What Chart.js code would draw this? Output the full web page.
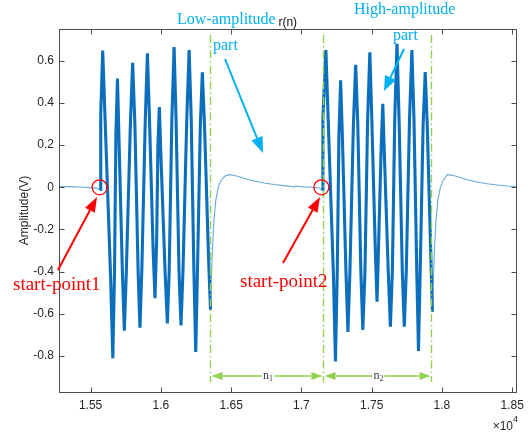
<!DOCTYPE html>
<html>
<head>
<meta charset="utf-8">
<title>r(n)</title>
<script src="https://cdn.jsdelivr.net/npm/chart.js"></script>
<style>
    body { margin: 0; background: #fff; }
    #wrap { width: 530px; height: 433px; }
</style>
</head>
<body>
<div id="wrap"><canvas id="signalChart" width="530" height="433"></canvas></div>
<script>
// sample index n / amplitude (V), split into the quiet stretches and the two bursts
const idleN = [15275, 15350, 15450, 15540, 15564];
const idleV = [0.004, 0.003, 0.0, -0.004, -0.012];

const burst1N = [15564, 15571, 15572, 15586, 15602, 15642, 15658, 15670, 15680, 15691,
    15701, 15726, 15740, 15754, 15783, 15799, 15815, 15838, 15851, 15864,
    15889, 15904, 15919, 15945, 15958, 15970, 15979, 15989, 16000, 16030,
    16046, 16059, 16078, 16094, 16108, 16129, 16143, 16157, 16184, 16201,
    16216, 16235, 16248, 16260, 16281, 16295, 16310, 16340, 16353];
const burst1V = [-0.012, -0.01, 0.35, 0.648, 0.34, -0.42, -0.81, -0.4, 0.25, 0.515,
    0.25, -0.4, -0.68, -0.4, 0.3, 0.59, 0.3, -0.4, -0.665, -0.4,
    0.32, 0.635, 0.32, -0.3, -0.525, -0.25, 0.2, 0.38, 0.15, -0.4,
    -0.645, -0.4, 0.32, 0.665, 0.32, -0.4, -0.655, -0.4, 0.32, 0.65,
    0.32, -0.4, -0.78, -0.4, 0.3, 0.545, 0.3, -0.35, -0.58];

const tail1N = [16353, 16359, 16366, 16377, 16391, 16408, 16426, 16454, 16483, 16525,
    16575, 16624, 16681, 16744, 16808, 16872, 16935, 16949, 16956, 17013,
    17084, 17126, 17142];
const tail1V = [-0.58, -0.45, -0.3, -0.16, -0.06, 0.0, 0.03, 0.052, 0.06, 0.056,
    0.046, 0.036, 0.027, 0.019, 0.013, 0.008, 0.004, 0.001, 0.006, 0.002,
    0.0, -0.003, -0.012];

const burst2N = [17142, 17151, 17153, 17174, 17190, 17228, 17242, 17255, 17267, 17279,
    17291, 17317, 17331, 17345, 17370, 17386, 17401, 17423, 17437, 17452,
    17471, 17487, 17501, 17526, 17538, 17550, 17568, 17579, 17589, 17618,
    17633, 17647, 17664, 17680, 17695, 17718, 17732, 17746, 17769, 17786,
    17801, 17821, 17833, 17845, 17866, 17881, 17895, 17922, 17932];
const burst2V = [-0.012, -0.01, 0.33, 0.65, 0.33, -0.42, -0.825, -0.4, 0.25, 0.507,
    0.25, -0.4, -0.685, -0.4, 0.3, 0.58, 0.3, -0.4, -0.676, -0.4,
    0.32, 0.64, 0.32, -0.3, -0.542, -0.25, 0.2, 0.396, 0.18, -0.4,
    -0.66, -0.4, 0.32, 0.68, 0.32, -0.4, -0.66, -0.4, 0.32, 0.65,
    0.32, -0.4, -0.775, -0.4, 0.3, 0.546, 0.3, -0.35, -0.59];

const tail2N = [17932, 17939, 17946, 17957, 17971, 17989, 18010, 18038, 18081, 18130,
    18180, 18250, 18321, 18392, 18462, 18530];
const tail2V = [-0.59, -0.45, -0.3, -0.16, -0.06, 0.0, 0.035, 0.06, 0.056, 0.046,
    0.036, 0.025, 0.017, 0.011, 0.006, 0.003];

// circled start points and the dash-dot part boundaries (sample index)
const startN = [15564, 17142];
const edgeN = [16350, 17151, 17921];

const xTicks = [15500, 16000, 16500, 17000, 17500, 18000, 18500];
const xTickLabels = ['1.55', '1.6', '1.65', '1.7', '1.75', '1.8', '1.85'];
const yTicks = [-0.8, -0.6, -0.4, -0.2, 0, 0.2, 0.4, 0.6];
const yTickLabels = ['-0.8', '-0.6', '-0.4', '-0.2', '0', '0.2', '0.4', '0.6'];

const AXIS = '#4d4d4d';
const CYAN = '#00b0f0';
const RED = '#ff0000';
const GREEN = '#92d050';
const SERIF = '"Liberation Serif", "Times New Roman", serif';
const SANS = '"Liberation Sans", Arial, sans-serif';

const pts = (ns, vs) => ns.map((n, i) => ({ x: n, y: vs[i] }));

function thin(ns, vs) {
    return { data: pts(ns, vs), borderColor: 'rgba(0,114,189,0.6)', borderWidth: 1.1, order: 1 };
}
function thick(ns, vs) {
    return { data: pts(ns, vs), borderColor: '#0b6fbe', borderWidth: 3.1, borderJoinStyle: 'miter', order: 0 };
}

function arrow(ctx, x1, y1, x2, y2, color, lw, hl, hw) {
    const a = Math.atan2(y2 - y1, x2 - x1);
    const bx = x2 - hl * Math.cos(a), by = y2 - hl * Math.sin(a);
    ctx.strokeStyle = color;
    ctx.fillStyle = color;
    ctx.lineWidth = lw;
    ctx.setLineDash([]);
    ctx.beginPath();
    ctx.moveTo(x1, y1);
    ctx.lineTo(bx, by);
    ctx.stroke();
    ctx.beginPath();
    ctx.moveTo(x2, y2);
    ctx.lineTo(bx + hw * Math.sin(a), by - hw * Math.cos(a));
    ctx.lineTo(bx - hw * Math.sin(a), by + hw * Math.cos(a));
    ctx.closePath();
    ctx.fill();
}

// n with a subscript index, white box behind so the span line breaks around it
function subLabel(ctx, cx, cy, idx) {
    ctx.font = '12px ' + SERIF;
    const w1 = ctx.measureText('n').width;
    ctx.font = '8px ' + SERIF;
    const w2 = ctx.measureText(idx).width;
    const left = cx - (w1 + w2) / 2;
    ctx.fillStyle = '#fff';
    ctx.fillRect(left - 1, cy - 5, w1 + w2 + 2, 10);
    ctx.fillStyle = '#404040';
    ctx.textAlign = 'left';
    ctx.textBaseline = 'alphabetic';
    ctx.font = '12px ' + SERIF;
    ctx.fillText('n', left, cy + 3);
    ctx.font = '8px ' + SERIF;
    ctx.fillText(idx, left + w1, cy + 5);
}

const frameAndNotes = {
    id: 'frameAndNotes',
    afterDraw(chart) {
        const { ctx, chartArea: a, scales: { x, y } } = chart;
        ctx.save();

        // box with inward ticks on all four sides
        const L = Math.round(a.left) + 0.5, R = Math.round(a.right) + 0.5;
        const T = Math.round(a.top) + 0.5, B = Math.round(a.bottom) + 0.5;
        ctx.strokeStyle = AXIS;
        ctx.lineWidth = 1;
        ctx.strokeRect(L, T, R - L, B - T);
        ctx.beginPath();
        xTicks.forEach(v => {
            const px = Math.round(x.getPixelForValue(v)) + 0.5;
            ctx.moveTo(px, B); ctx.lineTo(px, B - 5);
            ctx.moveTo(px, T); ctx.lineTo(px, T + 5);
        });
        yTicks.forEach(v => {
            const py = Math.round(y.getPixelForValue(v)) + 0.5;
            ctx.moveTo(L, py); ctx.lineTo(L + 5, py);
            ctx.moveTo(R, py); ctx.lineTo(R - 5, py);
        });
        ctx.stroke();

        // title, y label, exponent
        ctx.fillStyle = '#111';
        ctx.font = '12px ' + SANS;
        ctx.textAlign = 'center';
        ctx.textBaseline = 'alphabetic';
        ctx.fillText('r(n)', (a.left + a.right) / 2, 26);

        ctx.save();
        ctx.translate(25, (a.top + a.bottom) / 2);
        ctx.rotate(-Math.PI / 2);
        ctx.textBaseline = 'middle';
        ctx.fillStyle = '#262626';
        ctx.fillText('Amplitude(V)', 0, 0);
        ctx.restore();

        ctx.fillStyle = '#262626';
        ctx.textAlign = 'right';
        ctx.font = '12px ' + SANS;
        ctx.fillText('\u00d710', 513, 430);
        ctx.textAlign = 'left';
        ctx.font = '9px ' + SANS;
        ctx.fillText('4', 513, 422);

        // dash-dot boundaries of the two parts
        const ex = edgeN.map(n => Math.round(x.getPixelForValue(n)) + 0.5);
        ctx.strokeStyle = GREEN;
        ctx.lineWidth = 1.4;
        ctx.setLineDash([8, 3, 1.5, 3]);
        ex.forEach(px => {
            ctx.beginPath();
            ctx.moveTo(px, 35);
            ctx.lineTo(px, 382);
            ctx.stroke();
        });

        // n1 / n2 spans
        const sy = 376;
        for (let i = 0; i < ex.length - 1; i++) {
            const l = ex[i] + 1, r = ex[i + 1] - 1, m = (l + r) / 2;
            arrow(ctx, m, sy, l, sy, GREEN, 1.5, 11, 4);
            arrow(ctx, m, sy, r, sy, GREEN, 1.5, 11, 4);
            subLabel(ctx, m + 1, sy, String(i + 1));
        }

        // start-point circles
        ctx.setLineDash([]);
        ctx.strokeStyle = RED;
        ctx.lineWidth = 1.3;
        startN.forEach(n => {
            ctx.beginPath();
            ctx.arc(x.getPixelForValue(n), y.getPixelForValue(0), 7.5, 0, Math.PI * 2);
            ctx.stroke();
        });

        // red callouts
        arrow(ctx, 58, 270, 97, 197, RED, 2, 15, 5.5);
        arrow(ctx, 283, 263, 320, 197, RED, 2, 15, 5.5);
        ctx.fillStyle = RED;
        ctx.font = '19px ' + SERIF;
        ctx.textAlign = 'left';
        ctx.textBaseline = 'alphabetic';
        ctx.fillText('start-point1', 13, 290);
        ctx.fillText('start-point2', 240, 287);

        // cyan callouts
        ctx.fillStyle = CYAN;
        ctx.font = '16px ' + SERIF;
        ctx.fillText('Low-amplitude', 177, 24);
        ctx.fillText('part', 213, 50);
        ctx.fillText('High-amplitude', 354, 14);
        ctx.fillText('part', 393, 40);
        arrow(ctx, 225, 59, 263, 153, CYAN, 2, 16, 6);
        arrow(ctx, 404, 49, 384, 91, CYAN, 2, 15, 6);

        ctx.restore();
    }
};

new Chart(document.getElementById('signalChart').getContext('2d'), {
    type: 'line',
    data: {
        datasets: [
            thin(idleN, idleV),
            thin(tail1N, tail1V),
            thin(tail2N, tail2V),
            thick(burst1N, burst1V),
            thick(burst2N, burst2V)
        ]
    },
    options: {
        responsive: false,
        animation: false,
        layout: { padding: { left: 0, top: 29, right: 11, bottom: 0 } },
        elements: { point: { radius: 0 }, line: { tension: 0 } },
        plugins: { legend: { display: false }, tooltip: { enabled: false } },
        scales: {
            x: {
                type: 'linear',
                min: 15275,
                max: 18530,
                afterFit: s => { s.height = 41; },
                afterBuildTicks: s => { s.ticks = xTicks.map(v => ({ value: v })); },
                grid: { display: false, drawTicks: false },
                border: { display: false },
                ticks: {
                    autoSkip: false,
                    maxRotation: 0,
                    padding: 6,
                    color: '#262626',
                    font: { family: SANS, size: 12 },
                    callback: (v, i) => xTickLabels[i]
                }
            },
            y: {
                type: 'linear',
                min: -0.97,
                max: 0.75,
                afterFit: s => { s.width = 59; },
                afterBuildTicks: s => { s.ticks = yTicks.map(v => ({ value: v })); },
                grid: { display: false, drawTicks: false },
                border: { display: false },
                ticks: {
                    padding: 5,
                    color: '#262626',
                    font: { family: SANS, size: 12 },
                    callback: (v, i) => yTickLabels[i]
                }
            }
        }
    },
    plugins: [frameAndNotes]
});
</script>
</body>
</html>
